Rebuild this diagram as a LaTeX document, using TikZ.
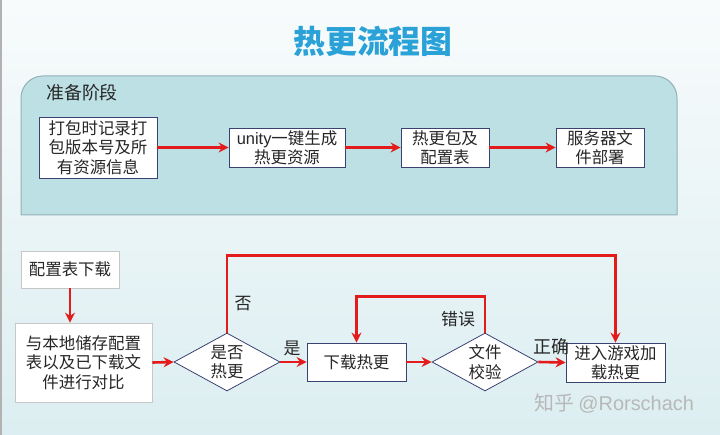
\documentclass[tikz,border=0pt]{standalone}
\usepackage{fontspec}
\setmainfont{Noto Sans CJK SC}
\newfontfamily\lat{Liberation Sans}
\usetikzlibrary{shapes.geometric,arrows.meta}
\definecolor{arrred}{HTML}{E31B1B}
\definecolor{panelfill}{HTML}{BCE0E3}
\definecolor{panelbd}{HTML}{93B1B8}
\definecolor{navy}{HTML}{3A4272}
\definecolor{titleblue}{HTML}{2AA2D8}
\definecolor{bgtop}{HTML}{F8FBFC}
\definecolor{bgbot}{HTML}{DCEEF1}
\definecolor{txt}{HTML}{262626}
\newcommand\boxfs{\fontsize{16.5}{19.5}\selectfont}
\begin{document}
\begin{tikzpicture}[x=1bp,y=-1bp,
  box/.style={draw=navy, fill=white, line width=0.8bp, inner sep=0pt, align=center, font=\boxfs, text=txt},
  lbox/.style={box, draw=black!22},
  dia/.style={diamond, draw=navy, fill=white, line width=0.8bp, inner sep=0pt},
  diatext/.style={font=\boxfs, align=center, text=txt, inner sep=0pt},
  arr/.style={draw=arrred, line width=2.6bp, -{Stealth[length=10bp,width=10bp]}},
  lbl/.style={font=\fontsize{17}{17}\selectfont, text=txt, inner sep=0pt}]
\useasboundingbox (0,0) rectangle (720,435);
% background
\shade[top color=bgtop, bottom color=bgbot] (0,0) rectangle (720,435);
\fill[black!30] (0,0) rectangle (1.5,435);
% title
\node[text=titleblue, font=\fontsize{32}{32}\selectfont\bfseries] (title) at (373,41) {热更流程图};
% panel
\path[fill=panelfill, draw=panelbd, line width=1bp]
  (21,215) -- (21,98) arc[start angle=180, end angle=270, radius=22]
  -- (655,76) arc[start angle=270, end angle=360, radius=22] -- (677,215) -- cycle;
\node[anchor=west, font=\fontsize{18}{18}\selectfont, text=txt, inner sep=0pt] (stage) at (46,93) {准备阶段};
% top row
\node[box, minimum width=118bp, minimum height=61bp] (b1) at (98,147.5) {打包时记录打\\包版本号及所\\有资源信息};
\node[box, minimum width=116bp, minimum height=39bp] (b2) at (287,147.5) {{\lat unity}一键生成\\热更资源};
\node[box, minimum width=88bp, minimum height=39bp] (b3) at (445,147.5) {热更包及\\配置表};
\node[box, minimum width=88bp, minimum height=39bp] (b4) at (600,147.5) {服务器文\\件部署};
\draw[arr] (b1.east) -- (b2.west);
\draw[arr] (b2.east) -- (b3.west);
\draw[arr] (b3.east) -- (b4.west);
% bottom flow
\node[lbox, minimum width=98bp, minimum height=37bp] (cfg) at (70,269.5) {配置表下载};
\node[lbox, minimum width=137bp, minimum height=79bp] (cmp) at (83.5,362.5) {与本地储存配置\\表以及已下载文\\件进行对比};
\node[dia, minimum width=106bp, minimum height=58bp] (d1) at (227,362) {};
\node[diatext] (d1t) at (d1) {是否\\热更};
\node[box, minimum width=99bp, minimum height=38bp] (dl) at (356.5,362) {下载热更};
\node[dia, minimum width=106bp, minimum height=58bp] (d2) at (485,362) {};
\node[diatext] (d2t) at (d2) {文件\\校验};
\node[box, minimum width=99bp, minimum height=39bp] (en) at (615.5,362.5) {进入游戏加\\载热更};
\draw[arr] (cfg.south) -- (cfg.south |- cmp.north);
\draw[arr] (cmp.east) -- (d1.west);
\draw[arr] (d1.east) -- (dl.west);
\draw[arr] (dl.east) -- (d2.west);
\draw[arr] (d2.east) -- (en.west);
\draw[arr] (d1.north) -- ++(0,-77) -| (en.north);
\draw[arr] (d2.north) -- ++(0,-36) -| (dl.north);
% labels
\node[lbl] (lyes) at (292,348) {是};
\node[lbl] (lno) at (243,304) {否};
\node[lbl] (lerr) at (458,319) {错误};
\node[lbl, font=\fontsize{18}{18}\selectfont] (lok) at (551,347) {正确};
% watermark
\node[text=black!28, font=\fontsize{20}{20}\selectfont, inner sep=0pt] (wm) at (614,403) {知乎 {\lat @Rorschach}};
\end{tikzpicture}
\end{document}
